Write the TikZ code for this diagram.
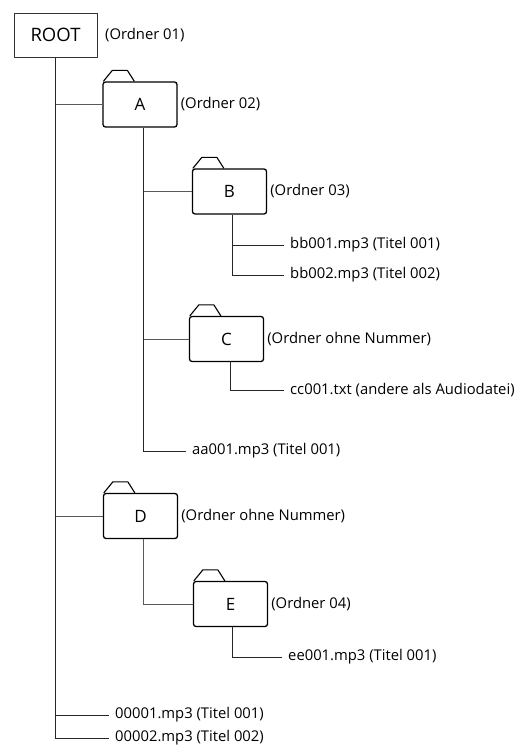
\documentclass[tikz,border=0pt]{standalone}
\usepackage{fontspec}
\setmainfont{Open Sans}
\usepackage{tikz}
\usetikzlibrary{positioning}

\begin{document}
\begin{tikzpicture}[x=1pt,y=-1pt,-,
  rootnode/.style={rectangle,draw=black!80,line width=0.8pt,minimum width=83pt,minimum height=44pt,font=\fontsize{18.5}{18.5}\selectfont},
  foldernode/.style={rectangle,draw,line width=1.3pt,rounded corners=2.5pt,minimum width=74pt,minimum height=45pt,font=\fontsize{17}{17}\selectfont},
  infonode/.style={inner sep=3pt,anchor=west,font=\fontsize{14.8}{14.8}\selectfont},
  filenode/.style={inner xsep=6pt,anchor=west,font=\fontsize{14.8}{14.8}\selectfont},
  treeline/.style={draw=black!65,line width=0.9pt},
  fileline/.style={draw=black!85,line width=0.8pt},
  tabline/.style={draw,line width=1.1pt,line join=round}]

\useasboundingbox (0,0) rectangle (522,752);

\node [rootnode] (root) at (55.5, 35) {ROOT};
\node [infonode] (rootinfo) at (102, 35) {(Ordner 01)};

\node [foldernode] (A) at (140, 104.5) {A};
\node [foldernode] (B) at (229.5, 191.5) {B};
\node [foldernode] (C) at (226.5, 339) {C};
\node [foldernode] (D) at (140.5, 516) {D};
\node [foldernode] (E) at (230.5, 604) {E};

\node [infonode] (Ainfo) at (A.east) {(Ordner 02)};
\node [infonode] (Binfo) at (B.east) {(Ordner 03)};
\node [infonode] (Cinfo) at (C.east) {(Ordner ohne Nummer)};
\node [infonode] (Dinfo) at (D.east) {(Ordner ohne Nummer)};
\node [infonode] (Einfo) at (E.east) {(Ordner 04)};

% tabs on top of the folders
\foreach \f in {A,B,C,D,E}
  \draw [tabline] ([xshift=1pt]\f.north west) -- ++(9pt,11pt) -- ++(15pt,0pt) -- ++(7pt,-11pt);

\node [filenode] (bb1) at (284, 245) {bb001.mp3 (Titel 001)};
\node [filenode] (bb2) at (284, 275) {bb002.mp3 (Titel 002)};
\node [filenode] (cc1) at (284, 390) {cc001.txt (andere als Audiodatei)};
\node [filenode] (aa1) at (186, 451) {aa001.mp3 (Titel 001)};
\node [filenode] (ee1) at (282, 657) {ee001.mp3 (Titel 001)};
\node [filenode] (f1) at (109, 715) {00001.mp3 (Titel 001)};
\node [filenode] (f2) at (109, 738) {00002.mp3 (Titel 002)};

\draw [treeline] (root.south) |- (A.west);
\draw [treeline] (root.south) |- (D.west);
\draw [fileline] (root.south) |- (f1.west);
\draw [fileline] (root.south) |- (f2.west);

\draw [treeline] ([xshift=3pt]A.south) |- (B.west);
\draw [treeline] ([xshift=3pt]A.south) |- (C.west);
\draw [fileline] ([xshift=3pt]A.south) |- (aa1.west);

\draw [fileline] ([xshift=3pt]B.south) |- (bb1.west);
\draw [fileline] ([xshift=3pt]B.south) |- (bb2.west);

\draw [fileline] ([xshift=4pt]C.south) |- (cc1.west);

\draw [treeline] ([xshift=3pt]D.south) |- (E.west);
\draw [fileline] ([xshift=2pt]E.south) |- (ee1.west);
\end{tikzpicture}
\end{document}
